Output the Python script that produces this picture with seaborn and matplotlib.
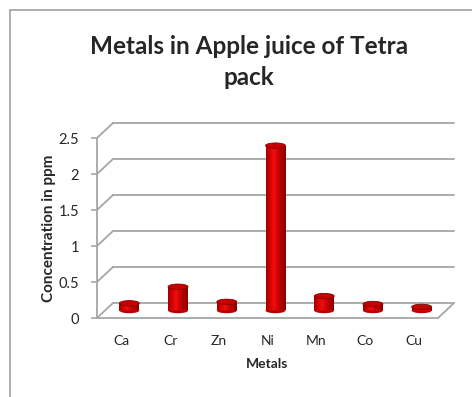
"""
Metals in apple juice of Tetra pack - pseudo 3D cylinder bar chart.
"""
import numpy as np
import pandas as pd
import matplotlib
matplotlib.use("Agg")
import matplotlib.pyplot as plt
import matplotlib.transforms as mtransforms
from matplotlib.patches import Ellipse, Rectangle
from matplotlib.colors import LinearSegmentedColormap
import seaborn as sns

# --------------------------------------------------------------------------------
# Data
# --------------------------------------------------------------------------------
metals = ["Ca", "Cr", "Zn", "Ni", "Mn", "Co", "Cu"]
conc   = [0.10, 0.33, 0.12, 2.29, 0.20, 0.09, 0.05]
yticks = [0, 0.5, 1, 1.5, 2, 2.5]

df = pd.DataFrame({"Metals": metals, "Concentration": conc})

# --------------------------------------------------------------------------------
# Styling
# --------------------------------------------------------------------------------
sns.set_style("white")
plt.rcParams["font.family"] = ["Lato", "DejaVu Sans"]
GRID  = "#a6a6a6"
BAR_W = 0.41
CAP_H = 0.075  # ellipse height in data units

fig = plt.figure(figsize=(4.72, 3.97), dpi=100)
fig.patches.append(Rectangle((10 / 472, -0.01), 1.0, (397 - 10) / 397 + 0.01,
                             transform=fig.transFigure, fill=False,
                             edgecolor="#a0a0a0", linewidth=1.2))

ax = fig.add_axes([97 / 472, (397 - 318) / 397, 341 / 472, 180 / 397])
ax.set_xlim(-0.5, len(metals) - 0.5)
ax.set_ylim(0, 2.5)

# depth offsets (back wall and middle plane where the bars stand)
back = ax.transData + mtransforms.ScaledTranslation(0.16, 0.15, fig.dpi_scale_trans)
mid  = ax.transData + mtransforms.ScaledTranslation(0.08, 0.075, fig.dpi_scale_trans)

# back wall gridlines + diagonals from the front axis
x0, x1 = -0.5, len(metals) - 0.5
for v in yticks:
    ax.plot([x0, x1], [v, v], color=GRID, lw=1.3, transform=back, clip_on=False, zorder=1)
    disp_a = ax.transData.transform((x0, v))
    disp_b = back.transform((x0, v))
    ax.plot([disp_a[0], disp_b[0]], [disp_a[1], disp_b[1]], color=GRID, lw=1.3,
            transform=None, clip_on=False, zorder=1)
# floor right edge
fa = ax.transData.transform((x1, 0))
fb = back.transform((x1, 0))
ax.plot([fa[0], fb[0]], [fa[1], fb[1]], color=GRID, lw=1.3, transform=None,
        clip_on=False, zorder=1)

# --------------------------------------------------------------------------------
# Bars (cylinders)
# --------------------------------------------------------------------------------
sns.barplot(data=df, x="Metals", y="Concentration", color="#cc0000",
            width=BAR_W, ax=ax, saturation=1, zorder=3)

cyl = LinearSegmentedColormap.from_list(
    "cyl", ["#9c0000", "#d80000", "#ee1010", "#d00000", "#a80000", "#8a0000"])
grad = np.linspace(0, 1, 64).reshape(1, -1)

for p in ax.patches:
    xc = p.get_x() + p.get_width() / 2
    h  = p.get_height()
    w  = p.get_width()
    p.set_transform(mid)
    p.set_edgecolor("none")
    p.set_clip_on(False)
    # rounded bottom
    ax.add_patch(Ellipse((xc, 0), w, CAP_H, transform=mid, facecolor="#b00000",
                         edgecolor="none", zorder=2.9, clip_on=False))
    # body shading
    im = ax.imshow(grad, extent=[p.get_x(), p.get_x() + w, 0, h], aspect="auto",
                   cmap=cyl, transform=mid, zorder=3.1)
    im.set_clip_path(p)
    # top cap
    ax.add_patch(Ellipse((xc, h), w, CAP_H, transform=mid, facecolor="#c40000",
                         edgecolor="#8a0000", linewidth=0.6, zorder=3.5, clip_on=False))

ax.set_xlim(-0.5, len(metals) - 0.5)
ax.set_ylim(0, 2.5)

# --------------------------------------------------------------------------------
# Axes, labels and title
# --------------------------------------------------------------------------------
sns.despine(ax=ax, top=True, right=True)
for s in ["left", "bottom"]:
    ax.spines[s].set_color(GRID)
    ax.spines[s].set_linewidth(1.3)
ax.set_yticks(yticks)
ax.set_yticklabels(["0", "0.5", "1", "1.5", "2", "2.5"])
ax.tick_params(axis="y", length=4, width=1.2, color=GRID, labelsize=10.5, pad=9,
               left=True)
ax.tick_params(axis="x", length=0, labelsize=10, pad=12)
ax.set_ylabel("Concentration in ppm", fontsize=11, fontweight="bold")
ax.yaxis.set_label_coords((56 - 97) / 341, 0.497)
ax.set_xlabel("Metals", fontsize=10, fontweight="bold", labelpad=8)

fig.text(0.527, (397 - 62) / 397, "Metals in Apple juice of Tetra\npack",
         ha="center", va="center", fontsize=17.5, fontweight="bold",
         linespacing=1.45)

fig.savefig("out.png", dpi=100)
